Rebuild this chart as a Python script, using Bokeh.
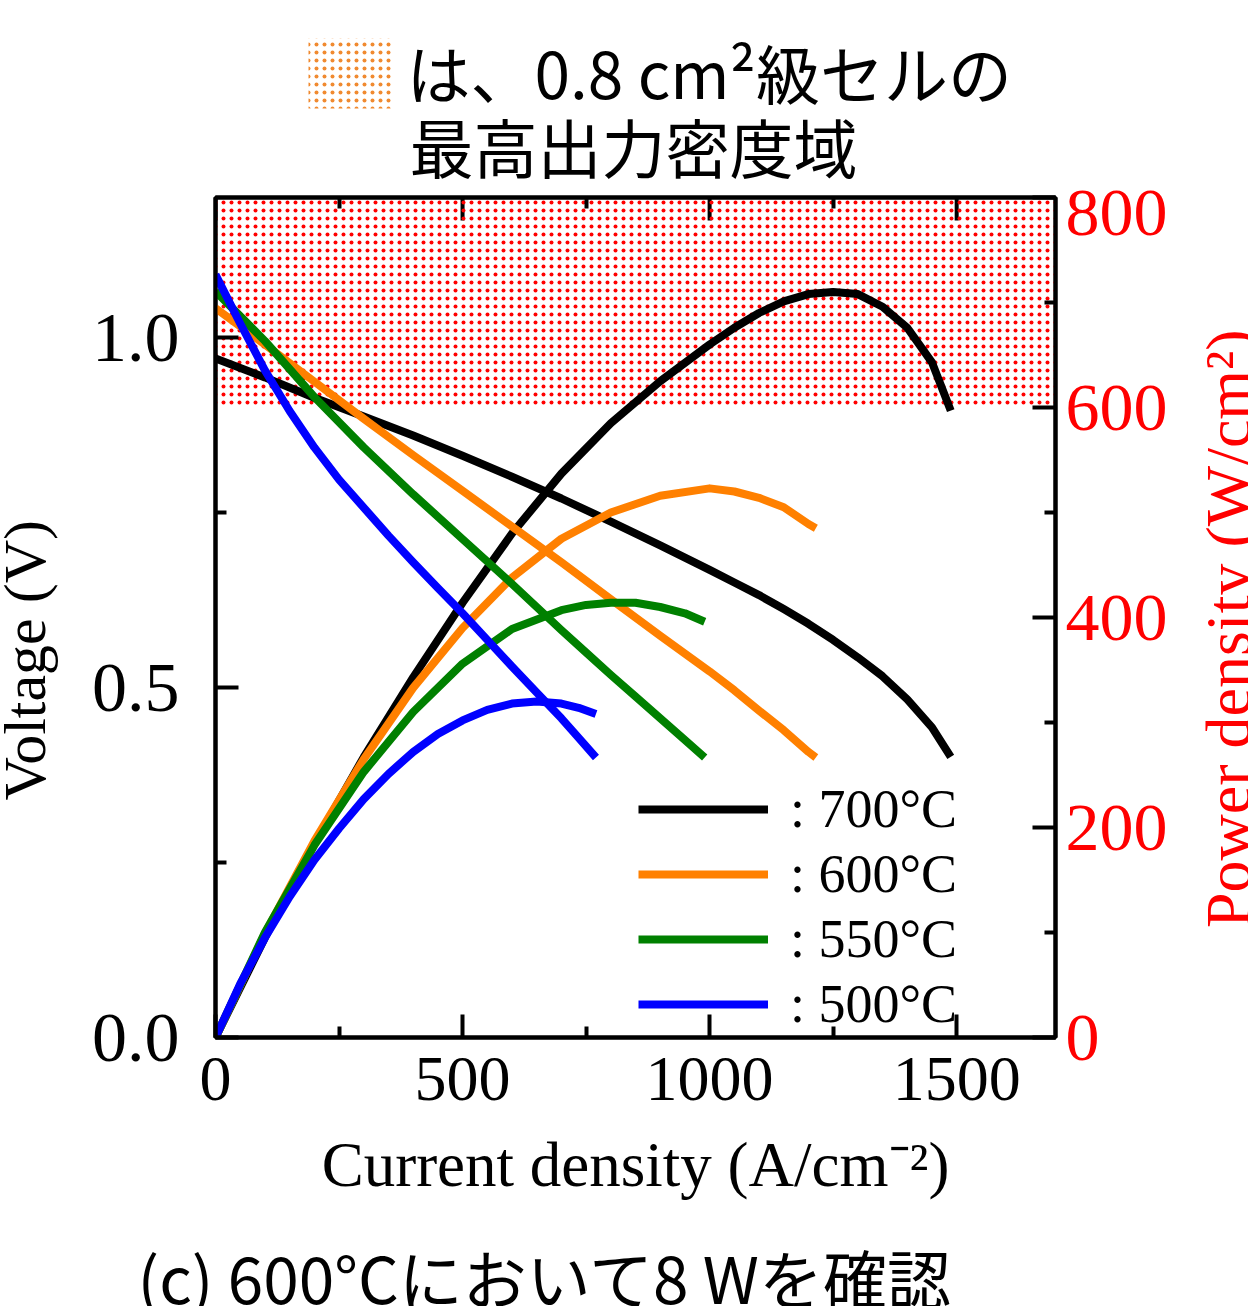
import math
from bokeh.plotting import figure
from bokeh.layouts import column, row
from bokeh.models import Range1d, LinearAxis, FixedTicker, Legend, LegendItem, PrintfTickFormatter
from bokeh.core.properties import value
from bokeh.embed import file_html
from bokeh.resources import INLINE

# ---------------- data ----------------
I_700 = [0, 100, 200, 300, 400, 500, 600, 700, 800, 900, 1000, 1050, 1100, 1150, 1200, 1250, 1300, 1350,
         1400, 1450, 1488]
V_700 = [0.970, 0.943, 0.914, 0.887, 0.860, 0.831, 0.801, 0.770, 0.737, 0.703, 0.668, 0.650, 0.632, 0.612,
         0.591, 0.568, 0.543, 0.516, 0.483, 0.443, 0.401]
P_700 = [0, 95, 184, 267, 343, 414, 480, 537, 585, 625, 660, 676, 690, 701, 708, 710, 708, 696, 676, 643, 597]

I_600 = [0, 100, 200, 300, 400, 500, 600, 700, 800, 900, 1000, 1050, 1100, 1150, 1200, 1215]
V_600 = [1.042, 0.990, 0.937, 0.884, 0.832, 0.781, 0.730, 0.679, 0.626, 0.574, 0.523, 0.496, 0.467, 0.439,
         0.408, 0.400]
P_600 = [0, 99, 187, 265, 333, 390, 438, 475, 500, 516, 523, 520, 514, 505, 489, 485]

I_550 = [0, 100, 200, 300, 400, 500, 600, 700, 750, 800, 850, 900, 950, 990]
V_550 = [1.066, 0.995, 0.915, 0.843, 0.776, 0.712, 0.648, 0.582, 0.550, 0.518, 0.487, 0.456, 0.425, 0.400]
P_550 = [0, 100, 183, 253, 310, 356, 389, 407, 412, 414, 414, 410, 404, 396]

I_500 = [0, 50, 100, 150, 200, 250, 300, 350, 400, 450, 500, 550, 600, 650, 700, 735, 770]
V_500 = [1.090, 1.020, 0.953, 0.895, 0.843, 0.797, 0.757, 0.717, 0.679, 0.642, 0.606, 0.568, 0.530, 0.493,
         0.456, 0.428, 0.400]
P_500 = [0, 51, 95, 134, 169, 199, 227, 251, 272, 289, 302, 312, 318, 320, 318, 314, 308]

SERIES_LABELS = [": 700°C", ": 600°C", ": 550°C", ": 500°C"]
SERIES_COLORS = ["#000000", "#FF8000", "#008000", "#0000FF"]

X_TICKS = [0, 500, 1000, 1500]
X_MINOR = [250, 750, 1250]
V_TICKS = [0.0, 0.5, 1.0]
V_MINOR = [0.25, 0.75]
P_TICKS = [0, 200, 400, 600, 800]
P_MINOR = [100, 300, 500, 700]

X_MAX, V_MAX, P_MAX = 1700, 1.2, 800
BAND_LOW, BAND_HIGH = 600, 800  # W/cm2 highlighted band

TITLE_1 = "は、0.8 cm²級セルの"
TITLE_2 = "最高出力密度域"
CAPTION = "(c) 600°Cにおいて8 Wを確認"
X_TITLE = "Current density (A/cm⁻²)"
Y_TITLE = "Voltage (V)"
Y2_TITLE = "Power density (W/cm²)"

SERIF = "Liberation Serif"
JP = "Noto Sans CJK JP"

# ---------------- layout sizes (page px) ----------------
TOTAL_W = 1248
HEAD_H = 190
FOOT_H = 81
MID_H = 1306 - HEAD_H - FOOT_H
LEFT_W = 75
RIGHT_W = 58
MAIN_W = TOTAL_W - LEFT_W - RIGHT_W
FRAME_TOP, FRAME_BOTTOM = 7, 188  # borders above / below the plot frame inside the middle row


def blank(w, h, y_range=None, top=0, bottom=0):
    f = figure(width=w, height=h, x_range=Range1d(0, w),
               y_range=y_range if y_range is not None else Range1d(0, h),
               output_backend="svg", toolbar_location=None,
               x_axis_location=None, y_axis_location=None,
               min_border_left=0, min_border_right=0, min_border_top=top, min_border_bottom=bottom)
    f.xgrid.visible = False
    f.ygrid.visible = False
    f.outline_line_color = None
    f.background_fill_color = "white"
    f.border_fill_color = "white"
    return f


# ---------------- header: swatch + two lines of text ----------------
head = blank(TOTAL_W, HEAD_H)
head.quad(left=[308], right=[392], bottom=[82], top=[152], fill_alpha=0, line_color=None,
          hatch_pattern="dot", hatch_color="#F08A30", hatch_scale=8, hatch_weight=2.5)
head.text(x=[406], y=[120], text=[TITLE_1], text_font=value(JP), text_font_size="64px",
          text_align="left", text_baseline="middle", text_color="black")
head.text(x=[409], y=[46], text=[TITLE_2], text_font=value(JP), text_font_size="64px",
          text_align="left", text_baseline="middle", text_color="black")

# ---------------- left / right title strips (frames aligned with the chart frame) ----------------
lft = blank(LEFT_W, MID_H, y_range=Range1d(0, V_MAX), top=FRAME_TOP, bottom=FRAME_BOTTOM)
lft.text(x=[24], y=[0.539], text=[Y_TITLE], text_font=value(SERIF), text_font_size="60px",
         text_align="center", text_baseline="middle", angle=math.pi / 2, text_color="black")

rgt = blank(RIGHT_W, MID_H, y_range=Range1d(0, V_MAX), top=FRAME_TOP, bottom=FRAME_BOTTOM)
rgt.text(x=[38], y=[0.584], text=[Y2_TITLE], text_font=value(SERIF), text_font_size="64px",
         text_align="center", text_baseline="middle", angle=math.pi / 2, text_color="#FF0000")

# ---------------- footer caption ----------------
foot = blank(TOTAL_W, FOOT_H)
foot.text(x=[137], y=[31], text=[CAPTION], text_font=value(JP), text_font_size="64px",
          text_align="left", text_baseline="middle", text_color="black")

# ---------------- main chart ----------------
p = figure(width=MAIN_W, height=MID_H, x_range=Range1d(0, X_MAX), y_range=Range1d(0, V_MAX),
           output_backend="svg", toolbar_location=None,
           min_border_left=140, min_border_right=135, min_border_top=FRAME_TOP,
           min_border_bottom=FRAME_BOTTOM)
p.extra_y_ranges = {"pw": Range1d(0, P_MAX)}
p.xgrid.visible = False
p.ygrid.visible = False
p.outline_line_color = "black"
p.outline_line_width = 4
p.background_fill_color = "white"
p.border_fill_color = "white"


def style_axis(ax, size, color="black", standoff=10):
    ax.axis_line_width = 4
    ax.axis_line_color = "black"
    ax.major_tick_in = 23
    ax.major_tick_out = 0
    ax.minor_tick_in = 11
    ax.minor_tick_out = 0
    ax.major_tick_line_width = 4
    ax.minor_tick_line_width = 4
    ax.major_tick_line_color = "black"
    ax.minor_tick_line_color = "black"
    ax.major_label_text_font = SERIF
    ax.major_label_text_font_size = size
    ax.major_label_text_color = color
    ax.major_label_standoff = standoff


xa = p.xaxis[0]
xa.ticker = FixedTicker(ticks=X_TICKS, minor_ticks=X_MINOR)
style_axis(xa, "64px", standoff=20)
xa.axis_label = X_TITLE
xa.axis_label_text_font = SERIF
xa.axis_label_text_font_size = "63px"
xa.axis_label_text_font_style = "normal"
xa.axis_label_text_color = "black"
xa.axis_label_standoff = 27

ya = p.yaxis[0]
ya.ticker = FixedTicker(ticks=V_TICKS, minor_ticks=V_MINOR)
ya.formatter = PrintfTickFormatter(format="%.1f")
style_axis(ya, "70px", standoff=36)

ra = LinearAxis(y_range_name="pw", ticker=FixedTicker(ticks=P_TICKS, minor_ticks=P_MINOR))
style_axis(ra, "68px", color="#FF0000", standoff=10)
p.add_layout(ra, "right")

# top axis: minor ticks only; major top ticks drawn as segments at the same tick values
ta = LinearAxis(ticker=FixedTicker(ticks=[], minor_ticks=X_MINOR))
style_axis(ta, "0px")
p.add_layout(ta, "above")
p.segment(x0=X_TICKS, x1=X_TICKS, y0=[V_MAX] * len(X_TICKS), y1=[V_MAX - 23 / 700.0] * len(X_TICKS),
          line_color="black", line_width=4)

# highlighted band (red dots)
p.quad(left=[0], right=[X_MAX], bottom=[BAND_LOW], top=[BAND_HIGH],
       y_range_name="pw", fill_alpha=0, line_color=None,
       hatch_pattern="dot", hatch_color="#FF0000", hatch_scale=8, hatch_weight=2.5)

# curves
items = []
for I, V, P, lab, col in zip([I_700, I_600, I_550, I_500], [V_700, V_600, V_550, V_500],
                             [P_700, P_600, P_550, P_500], SERIES_LABELS, SERIES_COLORS):
    rv = p.line(I, V, line_color=col, line_width=8, line_join="round")
    p.line(I, P, y_range_name="pw", line_color=col, line_width=8, line_join="round")
    items.append(LegendItem(label=lab, renderers=[rv]))

leg = Legend(items=items, location=(423, 2), orientation="vertical",
             glyph_width=130, glyph_height=60, label_height=60, spacing=3,
             padding=0, margin=0, label_standoff=22,
             label_text_font=SERIF, label_text_font_size="54px", label_text_color="black",
             border_line_color=None, background_fill_alpha=0)
p.add_layout(leg)

layout = column(head, row(lft, p, rgt), foot)
open("out.html", "w").write(file_html(layout, INLINE))
